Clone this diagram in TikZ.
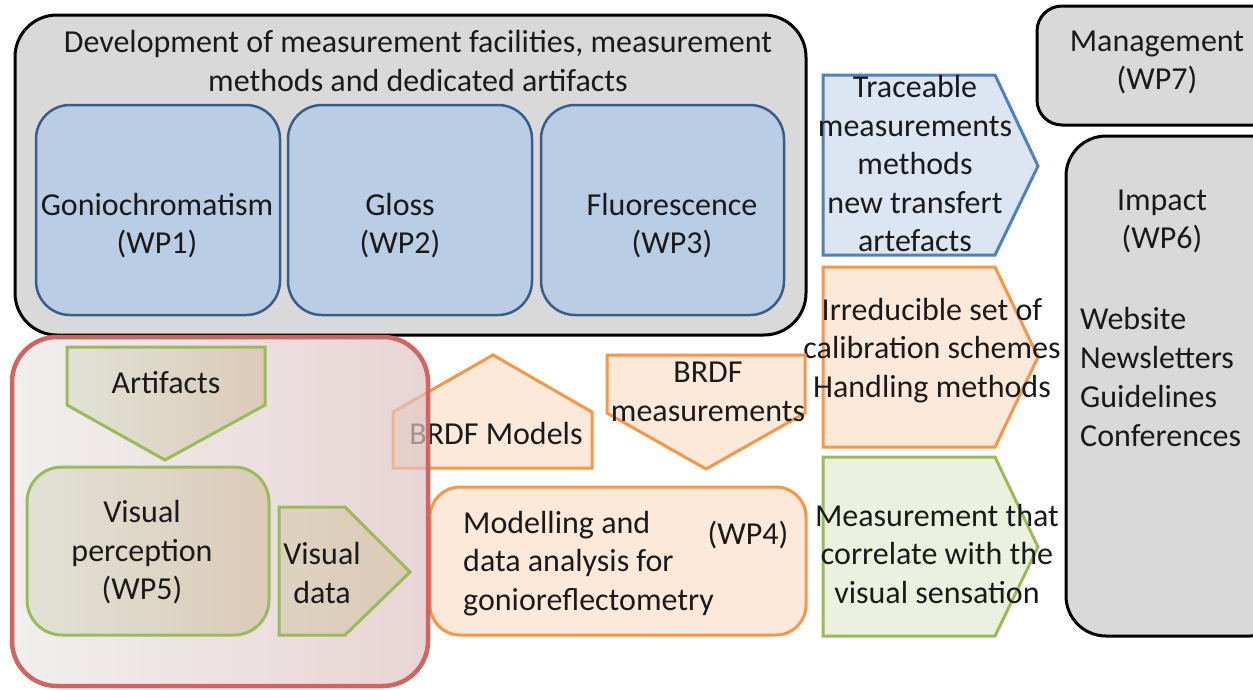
\documentclass[tikz,border=0pt]{standalone}
\usepackage{fontspec}
\setmainfont{Carlito}
\definecolor{boxgrey}{HTML}{D9D9D9}
\definecolor{wpline}{HTML}{385D8A}
\definecolor{wpfill}{HTML}{B9CDE5}
\definecolor{blueedge}{HTML}{4F81BD}
\definecolor{bluefill}{HTML}{DCE6F2}
\definecolor{orangeedge}{HTML}{F79646}
\definecolor{orangefill}{HTML}{FDE9D9}
\definecolor{greenedge}{HTML}{9BBB59}
\definecolor{greenfill}{HTML}{EBF1DE}
\definecolor{rededge}{HTML}{CF6460}
\definecolor{redleft}{HTML}{EBE8E8}
\definecolor{redright}{HTML}{DEC2C2}
\definecolor{tanleft}{HTML}{E0E2D6}
\definecolor{tanright}{HTML}{DCCBB8}
\definecolor{inkgrey}{HTML}{1A1A1A}
\begin{document}
\begin{tikzpicture}[x=1pt,y=-1pt,
  lbl/.style={font=\fontsize{32}{38.5}\selectfont, text=inkgrey, align=center, inner sep=0pt},
  greybox/.style={draw=black, line width=3pt, fill=boxgrey},
  wpbox/.style={draw=wpline, line width=2.5pt, fill=wpfill, rounded corners=34pt},
  bluearrow/.style={draw=blueedge, line width=3pt, fill=bluefill},
  orangeshape/.style={draw=orangeedge, line width=3pt, fill=orangefill},
  greenarrow/.style={draw=greenedge, line width=3pt, fill=greenfill},
  greenshade/.style={draw=greenedge, line width=3pt, left color=tanleft, right color=tanright},
  redframe/.style={draw=rededge, line width=4.5pt, rounded corners=45pt,
    left color=redleft, right color=redright, fill opacity=0.7}
]
\useasboundingbox (0,0) rectangle (1253,689);
\clip (0,0) rectangle (1253,689);

% measurement facilities block with the three work packages
\draw[greybox, rounded corners=42pt] (15,15) rectangle (806,335);
\node[lbl] (title) at (418,61) {Development of measurement facilities, measurement\\methods and dedicated artifacts};
\draw[wpbox] (36,105) rectangle (280,315);
\draw[wpbox] (288,105) rectangle (532,315);
\draw[wpbox] (541,105) rectangle (784,315);
\node[lbl] (wp1) at (157,225.5) {Goniochromatism\\(WP1)};
\node[lbl] (wp2) at (400,225.5) {Gloss\\(WP2)};
\node[lbl] (wp3) at (672,225.5) {Fluorescence\\(WP3)};

% management and impact
\draw[greybox, rounded corners=25pt] (1037,6) rectangle (1290,125);
\node[lbl] (wp7) at (1157,62.5) {Management\\(WP7)};
\draw[greybox, rounded corners=40pt] (1066,136) rectangle (1290,636);
\node[lbl] (wp6) at (1162,221.5) {Impact\\(WP6)};
\node[lbl, align=left, anchor=west, font=\fontsize{32}{39}\selectfont] (dissem) at (1080,376.5)
  {Website\\Newsletters\\Guidelines\\Conferences};

% outputs
\draw[bluearrow] (823,75) -- (995,75) -- (1038,166) -- (995,255) -- (823,255) -- cycle;
\node[lbl] (trace) at (915,164) {Traceable\\measurements\\methods\\new transfert\\artefacts};
\draw[orangeshape] (823,267) -- (995,267) -- (1038,357) -- (995,447) -- (823,447) -- cycle;
\node[lbl] (calib) at (932,350.5) {Irreducible set of\\calibration schemes\\Handling methods};
\draw[greenarrow] (823,457) -- (995,457) -- (1038,547) -- (995,636) -- (823,636) -- cycle;
\node[lbl] (corr) at (937,553.5) {Measurement that\\correlate with the\\visual sensation};

% modelling work package
\draw[orangeshape] (393,468) -- (393,412) -- (493,355) -- (592,412) -- (592,468) -- cycle;
\node[lbl] (models) at (496,433) {BRDF Models};
\draw[orangeshape] (607,355) -- (805,355) -- (805,413) -- (706,469) -- (607,413) -- cycle;
\node[lbl] (brdfm) at (708,392) {BRDF\\measurements};
\draw[orangeshape, rounded corners=30pt] (430,487) rectangle (806,635);
\node[lbl, align=left, anchor=west] (wp4) at (463,563.5) {Modelling and\\data analysis for\\gonioreflectometry};
\node[lbl] (wp4tag) at (748,535) {(WP4)};

% visual perception block
\draw[redframe] (12,337) rectangle (428,686);
\draw[greenshade] (67,347) -- (265,347) -- (265,405) -- (165,460) -- (67,405) -- cycle;
\node[lbl] (artifacts) at (166,383) {Artifacts};
\draw[greenshade, rounded corners=35pt] (27,467) rectangle (269,635);
\node[lbl] (wp5) at (142,552.5) {Visual\\perception\\(WP5)};
\draw[draw=greenedge, line width=3pt, left color=tanright!70!tanleft, right color=tanright]
  (279,507) -- (345,507) -- (410,572) -- (345,635) -- (279,635) -- cycle;
\node[lbl] (vdata) at (322,573) {Visual\\data};
\end{tikzpicture}
\end{document}
